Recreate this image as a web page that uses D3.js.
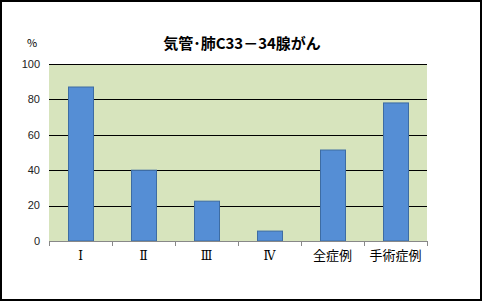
<!DOCTYPE html>
<html>
<head>
<meta charset="utf-8">
<script src="https://cdn.jsdelivr.net/npm/d3@7"></script>
<style>
  body { margin: 0; background: #fff; }
  svg { display: block; }
</style>
</head>
<body>
<div id="chart"></div>
<script>
// data
const stages = ["Ⅰ", "Ⅱ", "Ⅲ", "Ⅳ", "全症例", "手術症例"];
const rates = [87, 40, 22.5, 5.6, 51.4, 78];
const yTicks = [0, 20, 40, 60, 80, 100];

const W = 482, H = 301;
const margin = {top: 64, right: 55, bottom: 60, left: 49};

const svg = d3.select("#chart").append("svg")
  .attr("width", W).attr("height", H);

svg.append("rect")
  .attr("x", 1).attr("y", 1)
  .attr("width", W - 2).attr("height", H - 2)
  .attr("fill", "#fff").attr("stroke", "#000").attr("stroke-width", 2);

const innerW = W - margin.left - margin.right;
const innerH = H - margin.top - margin.bottom;

const xb = d3.scaleBand().domain(stages).range([0, innerW]);
const y = d3.scaleLinear().domain([0, 100]).range([innerH, 0]);

const g = svg.append("g").attr("transform", `translate(${margin.left},${margin.top})`);

g.append("rect")
  .attr("width", innerW).attr("height", innerH)
  .attr("fill", "#d7e4bd");

// gridlines
g.append("g")
  .selectAll("line")
  .data(yTicks.filter(d => d > 0))
  .join("line")
    .attr("x1", 0).attr("x2", innerW)
    .attr("y1", d => Math.round(y(d)) + 0.5).attr("y2", d => Math.round(y(d)) + 0.5)
    .attr("stroke", "#000").attr("stroke-width", 1);

// bars
g.append("g")
  .selectAll("rect")
  .data(stages)
  .join("rect")
    .attr("x", d => xb(d) + (xb.bandwidth() - 25) / 2 + 0.5)
    .attr("y", (d, i) => y(rates[i]))
    .attr("width", 25)
    .attr("height", (d, i) => innerH - y(rates[i]))
    .attr("fill", "#558ed5")
    .attr("stroke", "#3d6ca3")
    .attr("stroke-width", 1);

// y labels
g.append("g")
  .selectAll("text")
  .data(yTicks)
  .join("text")
    .attr("x", -9)
    .attr("y", d => y(d))
    .attr("dy", "0.35em")
    .attr("text-anchor", "end")
    .attr("font-family", "Liberation Sans, Arial, sans-serif")
    .attr("font-size", 11)
    .attr("fill", "#222")
    .text(d => d);

// x axis
const xAxis = g.append("g")
  .attr("transform", `translate(0,${innerH})`)
  .call(d3.axisBottom(xb).tickSize(0).tickPadding(10));
xAxis.select(".domain").attr("stroke", "#888");
xAxis.selectAll("text")
  .attr("font-family", "'Noto Sans CJK JP', sans-serif")
  .attr("font-size", 13)
  .attr("fill", "#000");
xAxis.selectAll("text").filter(d => d.length == 1)
  .attr("font-family", "'DejaVu Serif', 'Liberation Serif', serif")
  .attr("font-size", 12);

xAxis.append("g")
  .selectAll("line")
  .data([0, ...stages.map(d => xb(d) + xb.bandwidth())])
  .join("line")
    .attr("x1", d => Math.round(d) + 0.5).attr("x2", d => Math.round(d) + 0.5)
    .attr("y1", 0).attr("y2", 5)
    .attr("stroke", "#888");

// title
svg.append("text")
  .attr("x", 242).attr("y", 49)
  .attr("text-anchor", "middle")
  .attr("font-family", "'Noto Sans CJK JP', sans-serif")
  .attr("font-weight", "bold")
  .attr("font-size", 15)
  .text("気管･肺C33－34腺がん");

svg.append("text")
  .attr("x", 32).attr("y", 47)
  .attr("text-anchor", "middle")
  .attr("font-family", "'Noto Sans CJK JP', sans-serif")
  .attr("font-size", 11)
  .text("%");
</script>
</body>
</html>
